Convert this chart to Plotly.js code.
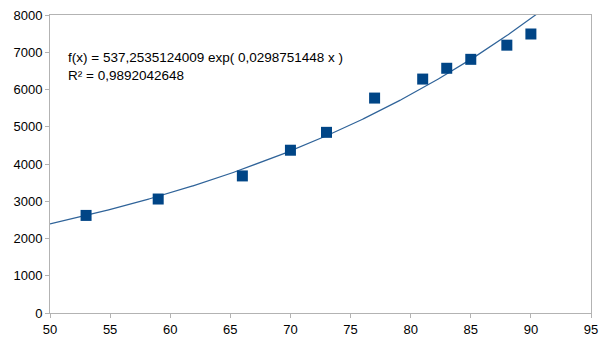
<!DOCTYPE html>
<html>
<head>
<meta charset="utf-8">
<script src="https://cdn.plot.ly/plotly-3.0.1.min.js"></script>
<style>html,body{margin:0;padding:0;background:#fff;}#chart{width:610px;height:351px;}</style>
</head>
<body>
<div id="chart"></div>
<script>
const xValues = [53, 59, 66, 70, 73, 77, 81, 83, 85, 88, 90];
const yValues = [2620, 3060, 3680, 4370, 4850, 5770, 6280, 6570, 6810, 7190, 7490];
const fitA = 537.2535124009;
const fitB = 0.0298751448;
const rSquared = "0,9892042648";
const xTickVals = [50, 55, 60, 65, 70, 75, 80, 85, 90, 95];
const yTickVals = [0, 1000, 2000, 3000, 4000, 5000, 6000, 7000, 8000];

const trendX = [];
const trendY = [];
for (let i = 0; i <= 450; i++) {
  const x = 50 + i * 0.1;
  trendX.push(x);
  trendY.push(fitA * Math.exp(fitB * x));
}

const traces = [
  {x: trendX, y: trendY, mode: 'lines', type: 'scatter',
   line: {color: '#2f6399', width: 1.2}, hoverinfo: 'skip'},
  {x: xValues, y: yValues, mode: 'markers', type: 'scatter',
   marker: {symbol: 'square', size: 11, color: '#004586'}}
];

const axisCommon = {
  showgrid: false, zeroline: false, showline: true, mirror: true,
  linecolor: '#b3b3b3', linewidth: 1, ticks: 'outside', ticklen: 4,
  tickcolor: '#b3b3b3', tickfont: {family: 'Liberation Sans, Arial, sans-serif', size: 13, color: '#000'}
};

const layout = {
  width: 610, height: 351,
  margin: {l: 50, r: 19, t: 15, b: 38},
  paper_bgcolor: '#fff', plot_bgcolor: '#fff',
  showlegend: false,
  xaxis: Object.assign({}, axisCommon, {range: [50, 95], tickvals: xTickVals, ticktext: xTickVals.map(String)}),
  yaxis: Object.assign({}, axisCommon, {range: [0, 8000], tickvals: yTickVals, ticktext: yTickVals.map(String)}),
  annotations: [{
    xref: 'paper', yref: 'paper', x: 0.029, y: 0.888, xanchor: 'left', yanchor: 'top',
    align: 'left', showarrow: false,
    text: 'f(x) = 537,2535124009 exp( 0,0298751448 x )<br>R² = ' + rSquared,
    font: {family: 'Liberation Sans, Arial, sans-serif', size: 13.5, color: '#000'}
  }]
};

Plotly.newPlot('chart', traces, layout, {displayModeBar: false, staticPlot: true});
</script>
</body>
</html>
